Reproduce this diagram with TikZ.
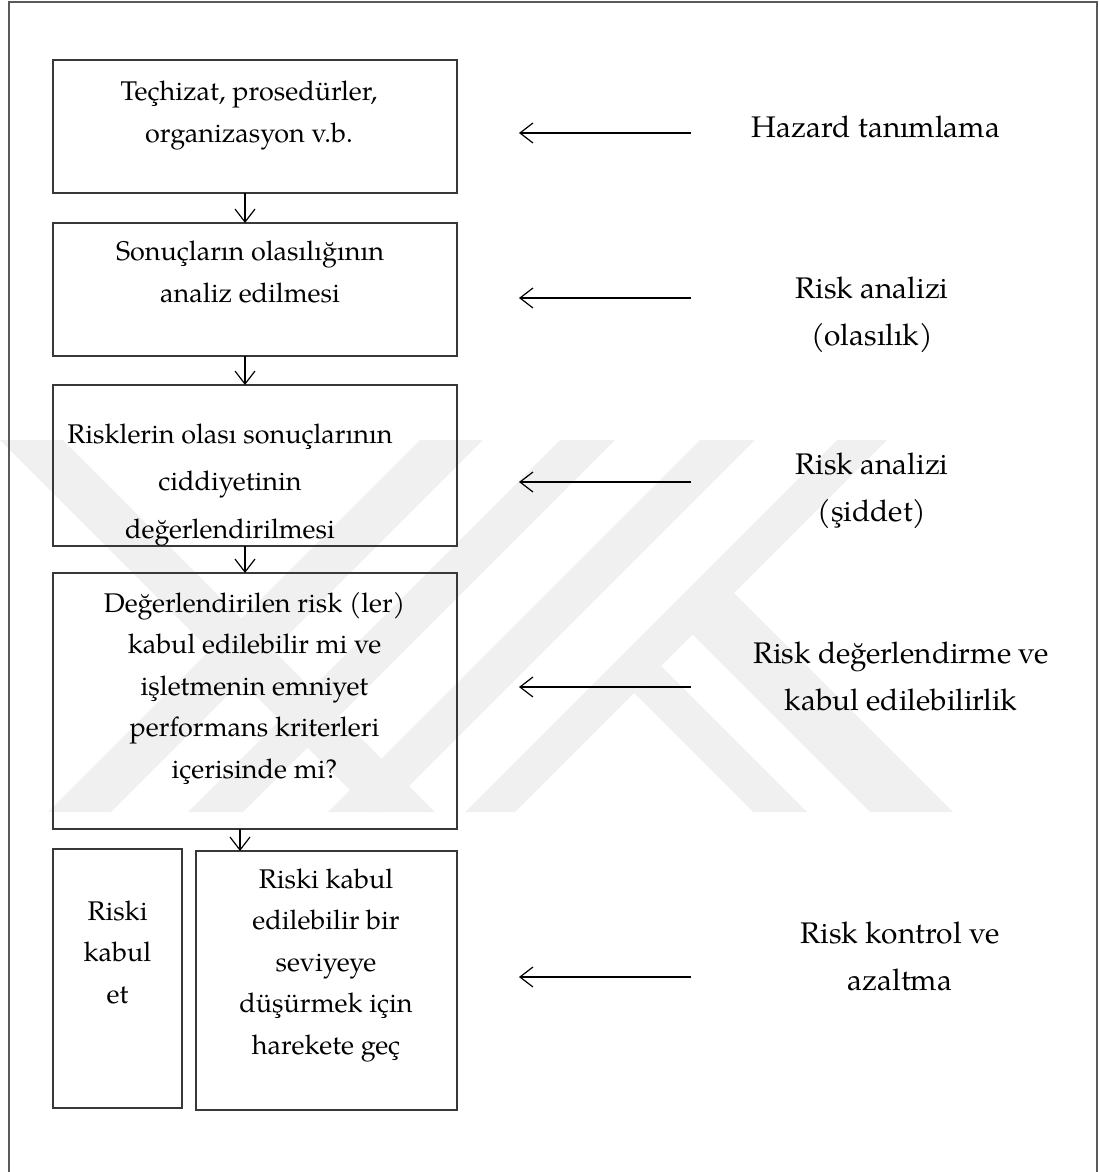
\documentclass[tikz,border=0pt]{standalone}
\usepackage{fontspec}
\setmainfont{texgyrepagella}[Extension=.otf,UprightFont=*-regular,BoldFont=*-bold,ItalicFont=*-italic,BoldItalicFont=*-bolditalic]
\usetikzlibrary{arrows.meta}
\definecolor{edge}{gray}{0.22}
\definecolor{framegray}{gray}{0.35}
\definecolor{embgray}{gray}{0.94}
\begin{document}
\begin{tikzpicture}[x=0.5pt,y=-0.5pt,
  box/.style={draw=edge,line width=0.65pt,inner sep=0pt,outer sep=0pt,anchor=north west},
  boxtext/.style={anchor=base,align=center,inner sep=0pt,font=\fontsize{13.5pt}{20.75pt}\selectfont},
  sidetext/.style={anchor=base,align=center,inner sep=0pt,font=\fontsize{14.9pt}{23.5pt}\selectfont},
  flow/.style={-{Straight Barb[length=6.5pt,width=10pt,line width=0.6pt]},line width=0.6pt},
  pointer/.style={-{Straight Barb[length=6.5pt,width=10pt,line width=0.6pt]},line width=1.1pt},
  emblem/.style={fill=embgray,draw=none}
]
\useasboundingbox (0,0) rectangle (1098,1172);

% faint background emblem
\begin{scope}
  \clip (0,440) rectangle (1098,812);
  \fill[emblem] (0,440) -- (63,440) -- (435,812) -- (372,812) -- cycle;
  \fill[emblem] (420,440) -- (483,440) -- (111,812) -- (48,812) -- cycle;
  \fill[emblem] (560,440) -- (615,440) -- (243,812) -- (188,812) -- cycle;
  \fill[emblem] (700,440) -- (755,440) -- (383,812) -- (328,812) -- cycle;
  \fill[emblem] (837,440) -- (887,440) -- (515,812) -- (465,812) -- cycle;
  \fill[emblem] (734,593) -- (953,812) -- (870,812) -- (692.5,634.5) -- cycle;
  \fill[emblem] (661,666) -- (807,812) -- (753,812) -- (634,693) -- cycle;
\end{scope}

% page frame (open at the bottom)
\draw[framegray,line width=1pt] (8.5,1172) -- (8.5,2.5) -- (1097,2.5) -- (1097,1172);

% process boxes
\node[box,minimum width=202pt,minimum height=66.5pt] (b1) at (53,60) {};
\node[box,minimum width=202pt,minimum height=66.5pt] (b2) at (53,223) {};
\node[box,minimum width=202pt,minimum height=80.5pt] (b3) at (53,385) {};
\node[box,minimum width=202pt,minimum height=128pt] (b4) at (53,573) {};
\node[box,minimum width=64.5pt,minimum height=129.5pt] (b5) at (53,849) {};
\node[box,minimum width=130.5pt,minimum height=129.5pt] (b6) at (196,851) {};

% box texts (anchored at the baseline of their last line)
\node[boxtext] (t1) at (249,142) {Teçhizat, prosedürler,\\organizasyon v.b.};
\node[boxtext] (t2) at (250,302) {Sonuçların olasılığının\\analiz edilmesi};
\node[boxtext,font=\fontsize{13.5pt}{23.75pt}\selectfont] (t3) at (230,538) {Risklerin olası sonuçlarının\\ciddiyetinin\\değerlendirilmesi};
\node[boxtext] (t4) at (254.5,778) {Değerlendirilen risk (ler)\\kabul edilebilir mi ve\\işletmenin emniyet\\performans kriterleri\\içerisinde mi?};
\node[boxtext] (t5) at (117.5,1003) {Riski\\kabul\\et};
\node[boxtext] (t6) at (326,1054) {Riski kabul\\edilebilir bir\\seviyeye\\düşürmek için\\harekete geç};

% flow arrows
\coordinate (vx) at (245,0);
\coordinate (wx) at (240,0);
\draw[flow] (b1.south -| vx) -- (b2.north -| vx);
\draw[flow] (b2.south -| vx) -- (b3.north -| vx);
\draw[flow] (b3.south -| vx) -- (b4.north -| vx);
\draw[flow] (b4.south -| wx) -- (b6.north -| wx);

% stage labels
\node[sidetext] (s1) at (876,138) {Hazard tanımlama};
\node[sidetext] (s2) at (872,345) {Risk analizi\\(olasılık)};
\node[sidetext] (s3) at (872,521) {Risk analizi\\(şiddet)};
\node[sidetext] (s4) at (901,710) {Risk değerlendirme ve\\kabul edilebilirlik};
\node[sidetext] (s5) at (900,990) {Risk kontrol ve\\azaltma};

% stage pointers
\coordinate (p1) at (691,133); \coordinate (q1) at (519,133);
\coordinate (p2) at (691,298); \coordinate (q2) at (519,298);
\coordinate (p3) at (691,482); \coordinate (q3) at (519,482);
\coordinate (p4) at (691,687); \coordinate (q4) at (519,687);
\coordinate (p5) at (691,977); \coordinate (q5) at (519,977);
\draw[pointer] (p1) -- (q1);
\draw[pointer] (p2) -- (q2);
\draw[pointer] (p3) -- (q3);
\draw[pointer] (p4) -- (q4);
\draw[pointer] (p5) -- (q5);
\end{tikzpicture}
\end{document}
